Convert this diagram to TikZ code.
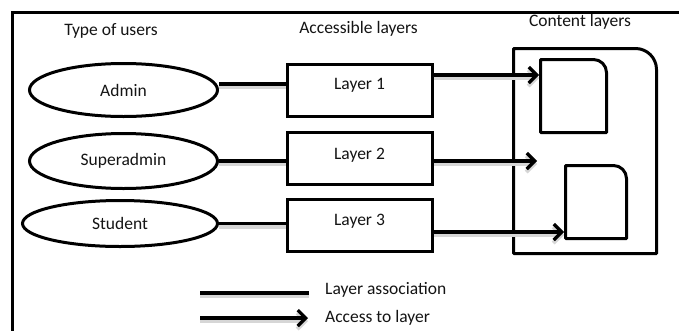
\documentclass[tikz,border=0pt]{standalone}
\usepackage{fontspec}
\setmainfont{Carlito}
\usetikzlibrary{arrows.meta,shapes.geometric}

\begin{document}
\begin{tikzpicture}[x=1pt,y=-1pt,
  every node/.style={font=\fontsize{17.5}{21}\selectfont, text=black!92, inner sep=0pt},
  usershape/.style={draw, ellipse, line width=3pt},
  layerbox/.style={draw, rectangle, line width=3pt, minimum width=145pt, minimum height=52pt},
  outline/.style={draw, line width=3pt, line join=round},
  soft/.style={preaction={draw=black!16, line width=4pt, transform canvas={yshift=-3pt}}},
  assoc/.style={line width=3.2pt, soft},
  access/.style={line width=3.2pt, soft, -{Straight Barb[length=8pt,width=16pt]}}
]
\useasboundingbox (0,0) rectangle (679,330);
\clip (0,0) rectangle (679,330);
\fill[white] (0,0) rectangle (679,330);

% outer frame (runs off the right and bottom edges)
\draw[line width=3pt] (12.5,12.5) rectangle (720,360);

% column headings
\node (hUsers)   at (111,31)  {Type of users};
\node (hAccess)  at (358.5,29) {Accessible layers};
\node (hContent) at (580,22)  {Content layers};

% user types
\node[usershape, minimum width=188pt, minimum height=53pt] (admin)   at (123.5,90)  {Admin};
\node[usershape, minimum width=188pt, minimum height=55pt] (super)   at (123.5,161) {Superadmin};
\node[usershape, minimum width=195pt, minimum height=46pt] (student) at (120,223.5) {Student};

% accessible layers
\node[layerbox, label={[yshift=5pt]center:Layer 1}] (l1) at (359.5,90.5) {};
\node[layerbox, label={[yshift=3pt]center:Layer 2}] (l2) at (359.5,158.5) {};
\node[layerbox, label={[yshift=4pt]center:Layer 3}] (l3) at (359.5,225.5) {};

% content layers container
\draw[outline] (513.5,253.5) -- (513.5,48.5) -- (635.5,48.5)
  arc[start angle=90, end angle=0, radius=21pt] -- (656.5,253.5) -- cycle;
% content blocks
\draw[outline] (540.5,132.5) -- (540.5,59.5) -- (593.5,59.5)
  arc[start angle=90, end angle=0, radius=13pt] -- (606.5,132.5) -- cycle;
\draw[outline] (565.5,238.5) -- (565.5,165.5) -- (613.5,165.5)
  arc[start angle=90, end angle=0, radius=13pt] -- (626.5,238.5) -- cycle;
\coordinate (c1) at (539,75);
\coordinate (c2) at (537,161);
\coordinate (c3) at (564,232);

% layer associations
\draw[assoc] ([yshift=6pt]admin.east) -- ([yshift=6pt]admin.east -| l1.west);
\draw[assoc] (super.east) -- (super.east -| l2.west);
\draw[assoc] (student.east) -- (student.east -| l3.west);

% access to content
\draw[access] (l1.east |- c1) -- (c1);
\draw[access] (l2.east |- c2) -- (c2);
\draw[access] (l3.east |- c3) -- (c3);

% legend
\coordinate (la1) at (200,293);
\coordinate (la2) at (309,293);
\coordinate (lb1) at (200,318);
\coordinate (lb2) at (308,318);
\draw[assoc] (la1) -- (la2);
\draw[access] (lb1) -- (lb2);
\node[anchor=west] (legAssoc)  at (325,290) {Layer association};
\node[anchor=west] (legAccess) at (325,318) {Access to layer};
\end{tikzpicture}
\end{document}
